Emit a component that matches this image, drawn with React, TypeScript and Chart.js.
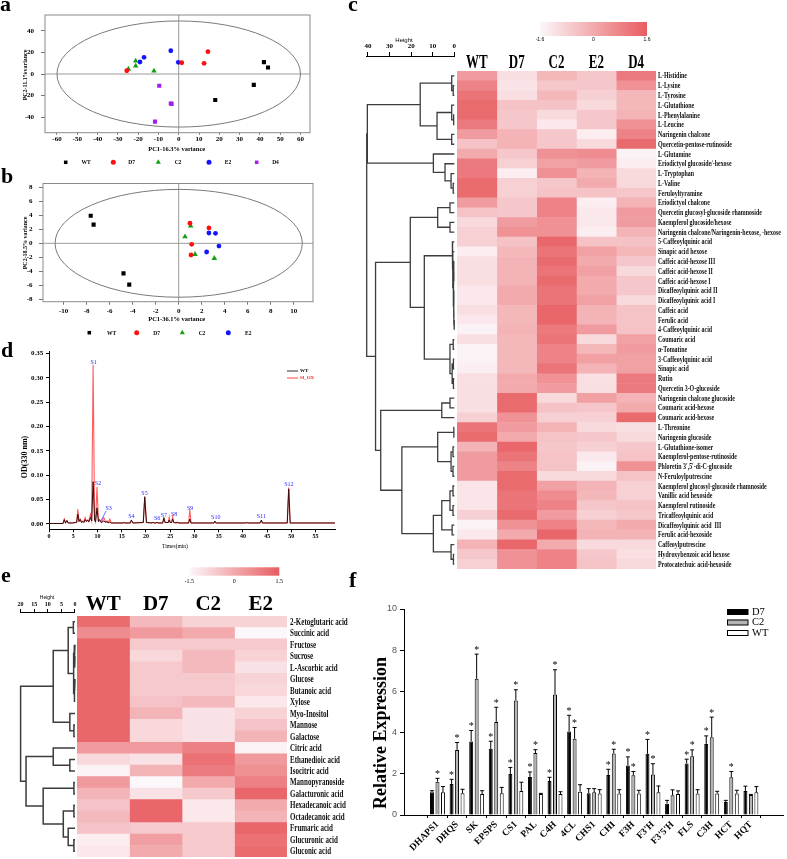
import React, { useEffect, useRef } from 'react';
import { Chart, registerables } from 'chart.js';

Chart.register(...registerables);

type Tree = number | [number, Tree, Tree];
type Box = { l: number; t: number; r: number; b: number };

const PAGE_W = 787;
const PAGE_H = 859;
const SERIF = "'Liberation Serif', 'Times New Roman', serif";
const SANS = "'Liberation Sans', Arial, sans-serif";

// ================= DATA =================
// ---- panels a / b : PCA scores ----
const pcaGroups = ['WT', 'D7', 'C2', 'E2', 'D4'];
const pcaColors = ['#000000', '#ff1010', '#14a014', '#1414ff', '#a020f0'];
const pcaShapes = ['rect', 'circle', 'triangle', 'circle', 'rect'];

const pcaA_WT = [[18, -24], [37, -10], [42, 11], [44, 6]];
const pcaA_D7 = [[-25.6, 3], [1.5, 10.4], [12.5, 9.9], [14.4, 20.6]];
const pcaA_C2 = [[-24.8, 4.6], [-21.2, 12], [-21.2, 7.4], [-12.2, 2.8]];
const pcaA_E2 = [[-19.1, 11.1], [-17.1, 15.4], [-3.9, 21.5], [-0.2, 10.8]];
const pcaA_D4 = [[-9.6, -10.8], [-3.9, -27.2], [-3.5, -27.6], [-11.7, -44]];
const pcaA_xTicks = [-60, -50, -40, -30, -20, -10, 0, 10, 20, 30, 40, 50, 60];
const pcaA_yTicks = [-40, -20, 0, 20, 40];
const pcaA_ellipse = [60, 49];

const pcaB_WT = [[-7.65, 3.94], [-7.4, 2.66], [-4.8, -4.3], [-4.3, -5.9]];
const pcaB_D7 = [[0.98, 2.86], [2.63, 2.2], [1.13, -0.14], [1.07, -1.67]];
const pcaB_C2 = [[1.04, 2.47], [0.55, 0.95], [1.42, -1.57], [3.1, -2.14]];
const pcaB_E2 = [[2.63, 1.47], [3.2, 1.43], [3.5, -0.39], [2.43, -1.24]];
const pcaB_xTicks = [-10, -8, -6, -4, -2, 0, 2, 4, 6, 8, 10];
const pcaB_yTicks = [-8, -6, -4, -2, 0, 2, 4, 6, 8];
const pcaB_ellipse = [10.75, 7.7];

// ---- panel c : heatmap ----
const rowsC = ['L-Histidine', 'L-Lysine', 'L-Tyrosine', 'L-Glutathione', 'L-Phenylalanine', 'L-Leucine',
  'Naringenin chalcone', 'Quercetin-pentose-rutinoside', 'L-Glutamine', 'Eriodictyol glucoside/-hexose',
  'L-Tryptophan', 'L-Valine', 'Feruloyltyramine', 'Eriodictyol chalcone', 'Quercetin glucosyl-glucoside rhamnoside',
  'Kaempferol glucoside/hexose', 'Naringenin chalcone/Naringenin-hexose, -hexose', '5-Caffeoylquinic acid',
  'Sinapic acid hexose', 'Caffeic acid-hexose III', 'Caffeic acid-hexose II', 'Caffeic acid-hexose I',
  'Dicaffeoylquinic acid II', 'Dicaffeoylquinic acid I', 'Caffeic acid', 'Ferulic acid', '4-Caffeoylquinic acid',
  'Coumaric acid', 'α-Tomatine', '3-Caffeoylquinic acid', 'Sinapic acid', 'Rutin', 'Quercetin 3-O-glucoside',
  'Naringenin chalcone glucoside', 'Coumaric acid-hexose', 'Coumaric acid-hexose', 'L-Threonine',
  'Naringenin glucoside', 'L-Glutathione-isomer', 'Kaempferol-pentose-rutinoside', "Phloretin 3',5'-di-C-glucoside",
  'N-Feruloylputrescine', 'Kaempferol glucosyl-glucoside rhamnoside', 'Vanillic acid hexoside', 'Kaempferol rutinoside',
  'Tricaffeoylquinic acid', 'Dicaffeoylquinic acid  III', 'Ferulic acid-hexoside', 'Caffeoylputrescine',
  'Hydroxybenzoic acid hexose', 'Protocatechuic acid-hexoside'];
const colsC = ['WT', 'D7', 'C2', 'E2', 'D4'];
const heatC_WT = [0.3, 0.8, 1.1, 1.3, 1.3, 1.0, 0.3, -0.5, 0.0, 1.0, 1.0, 1.3, 1.3, 0.3, -0.5, -1.0, -0.8, -0.8, -1.4, -1.1,
  -1.1, -1.1, -1.3, -1.3, -1.1, -1.3, -1.5, -1.1, -1.5, -1.5, -1.4, -1.1, -1.1, -1.1, -1.1, -0.8, 1.1, 1.3, -0.2, 0.3,
  0.3, 0.3, -1.2, -1.2, -1.2, -0.8, -1.5, -1.3, -0.2, -0.6, -0.8];
const heatC_D7 = [-1.1, -1.2, -1.1, -0.5, -0.6, -0.6, -0.2, -0.2, -0.6, -0.8, -1.4, -0.8, -0.8, -0.6, -0.6, 0.3, 0.5, -0.5, -0.3, -0.2,
  -0.2, -0.2, 0.0, 0.0, -0.3, -0.3, -0.2, -0.3, -0.3, -0.3, -0.3, 0.0, 0.0, 1.3, 1.3, 0.5, 0.3, 0.0, 1.4, 1.1,
  0.8, 1.3, 1.3, 1.1, 1.1, 1.3, 0.5, 0.0, 1.4, 0.5, 0.5];
const heatC_C2 = [-0.3, -0.6, -0.3, -0.5, -1.0, -1.3, -0.6, -0.6, 0.5, 0.2, 0.5, -0.6, -0.5, 0.8, 0.8, 0.5, 0.5, 1.4, 1.1, 1.3,
  1.1, 1.3, 1.1, 1.1, 1.4, 1.4, 1.0, 1.1, 0.8, 0.8, 1.1, 0.5, 0.3, -1.0, -0.5, -0.8, -0.2, -0.5, -0.6, -0.5,
  -0.5, -1.0, 0.2, 0.6, 0.8, 0.3, 0.8, 1.4, 0.0, 0.8, 0.8];
const heatC_E2 = [-0.6, -0.6, -0.8, -1.0, -0.6, -0.6, -1.4, -1.0, 0.6, 0.3, -0.2, 0.0, -0.5, -1.4, -1.3, -1.3, -1.4, -0.5, 0.2, 0.0,
  0.2, 0.0, 0.0, 0.2, -0.2, -0.2, 0.3, -1.0, -0.3, 0.2, -0.2, -1.1, -1.1, 0.2, -0.6, -0.8, -1.0, -0.6, -0.8, -1.3,
  -1.5, -1.0, -0.2, -0.3, -0.6, -0.8, -0.3, -0.2, -1.0, -0.6, -0.5];
const heatC_D4 = [1.0, 0.5, -0.3, -0.3, -0.2, 0.5, 0.8, 1.3, -1.5, -1.4, -1.0, -1.0, -0.6, -0.2, 0.3, 0.3, -0.2, -0.5, -0.3, -0.6,
  -1.0, -0.6, -0.6, -1.0, -0.5, -0.5, -0.5, 0.2, 0.3, 0.2, 0.2, 1.0, 1.0, -0.2, 0.0, 1.3, -1.1, -1.0, -0.6, -0.5,
  0.5, -0.5, -0.8, -0.8, -0.5, -0.6, 0.0, -0.2, -1.0, -1.1, -1.0];
const scaleC = [-1.6, 1.6];
const scaleC_labels = ['-1.6', '0', '1.6'];
// dendrogram: [merge height, left, right]; leaves are row indices
const treeC: Tree = [40.6,
  [40.3,
    [15.8, [1.2, 0, [0.5, 1, 2]], [8.0, [1.2, 3, [0.3, 4, 5]], [1.2, 6, 7]]],
    [9.7, 8, [4.3, 9, [1.5, 10, [0.5, 11, 12]]]]],
  [36.5,
    [20.4,
      [7.7, [2.0, 13, 14], [2.0, 15, 16]],
      [13.9,
        [0.9, 17, [0.7, 18, [0.5, [0.3, 19, [0.2, 20, 21]], [0.3, [0.2, 22, 23], [0.2, 24, [0.1, 25, 26]]]]]],
        [2.0, [0.5, 27, 28], [1.0, [0.4, 29, 30], [0.4, 31, 32]]]]],
    [34.1,
      [5.8, [2.0, 33, 34], 35],
      [24.3,
        [7.7, [0.2, 36, 37], [1.5, [0.6, 38, 39], [0.6, 40, 41]]],
        [9.7, [5.8, [2.0, [0.6, 42, 43], [0.6, 44, 45]], [1.0, 46, 47]], [1.5, 48, [0.4, 49, 50]]]]]]];
const treeC_ticks = [40, 30, 20, 10, 0];

// ---- panel d : chromatogram ----
const chromTime = [0, 2.9, 3.15, 3.4, 3.7, 3.95, 4.8, 5.7, 5.95, 6.2, 6.45, 6.7, 7.0, 7.2, 7.45, 7.7, 7.95, 8.2, 8.55, 8.8,
  9.1, 9.4, 9.6, 9.9, 10.2, 10.45, 10.8, 11.3, 11.7, 11.95, 12.2, 12.55, 12.85, 15.3, 15.5, 15.7, 16.75, 17.0, 17.3, 19.45,
  19.75, 20.1, 21.3, 21.5, 21.7, 22.1, 22.3, 22.5, 23.45, 23.7, 23.95, 24.6, 24.8, 25.0, 25.3, 25.5, 25.75, 26.3, 26.45, 26.65,
  28.8, 29.05, 29.3, 31.5, 34.0, 34.2, 34.45, 40.6, 40.8, 41.0, 43.55, 43.8, 44.05, 49.15, 49.45, 49.75, 59.0];
const chromWT = [0.001, 0.001, 0.009, 0.002, 0.007, 0.002, 0.002, 0.003, 0.020, 0.005, 0.009, 0.003, 0.005, 0.003, 0.009, 0.005, 0.008, 0.004, 0.013, 0.006,
  0.087, 0.008, 0.004, 0.033, 0.005, 0.009, 0.003, 0.006, 0.003, 0.005, 0.002, 0.004, 0.002, 0.002, 0.003, 0.002, 0.002, 0.008, 0.002, 0.003,
  0.056, 0.003, 0.002, 0.004, 0.002, 0.002, 0.004, 0.002, 0.002, 0.013, 0.003, 0.003, 0.008, 0.003, 0.003, 0.010, 0.003, 0.002, 0.004, 0.002,
  0.002, 0.010, 0.002, 0.002, 0.002, 0.006, 0.002, 0.002, 0.003, 0.002, 0.002, 0.008, 0.002, 0.002, 0.072, 0.002, 0.002];
const chromOX = [0.001, 0.001, 0.010, 0.002, 0.007, 0.002, 0.002, 0.004, 0.030, 0.006, 0.010, 0.004, 0.006, 0.004, 0.013, 0.006, 0.008, 0.005, 0.020, 0.008,
  0.327, 0.012, 0.005, 0.076, 0.006, 0.007, 0.003, 0.013, 0.004, 0.006, 0.003, 0.010, 0.002, 0.002, 0.003, 0.002, 0.002, 0.007, 0.002, 0.003,
  0.055, 0.003, 0.002, 0.003, 0.002, 0.002, 0.003, 0.002, 0.002, 0.010, 0.003, 0.003, 0.014, 0.003, 0.003, 0.015, 0.003, 0.002, 0.004, 0.002,
  0.002, 0.029, 0.002, 0.002, 0.002, 0.004, 0.002, 0.002, 0.003, 0.002, 0.002, 0.006, 0.002, 0.002, 0.075, 0.002, 0.002];
const peakNames = ['S1', 'S2', 'S3', 'S4', 'S5', 'S6', 'S7', 'S8', 'S9', 'S10', 'S11', 'S12'];
const peakT = [9.2, 10.1, 12.3, 17.0, 19.7, 22.3, 23.7, 25.8, 29.1, 34.4, 43.8, 49.5];
const peakV = [0.331, 0.084, 0.032, 0.015, 0.063, 0.012, 0.0185, 0.020, 0.032, 0.013, 0.015, 0.082];
const peakS3Pointer = [[11.8, 0.027], [10.6, 0.004]];
const chromXTicks = [0, 5, 10, 15, 20, 25, 30, 35, 40, 45, 50, 55];
const chromYTicks = [0, 0.05, 0.10, 0.15, 0.20, 0.25, 0.30, 0.35];

// ---- panel e : heatmap ----
const rowsE = ['2-Ketoglutaric acid', 'Succinic acid', 'Fructose', 'Sucrose', 'L-Ascorbic acid', 'Glucose',
  'Butanoic acid', 'Xylose', 'Myo-Inositol', 'Mannose', 'Galactose', 'Citric acid', 'Ethanedioic acid',
  'Isocitric acid', 'Mannopyranoside', 'Galacturonic acid', 'Hexadecanoic acid', 'Octadecanoic acid',
  'Frumaric acid', 'Glucuronic acid', 'Gluconic acid'];
const colsE = ['WT', 'D7', 'C2', 'E2'];
const heatE_WT = [1.2, 0.6, 1.3, 1.3, 1.3, 1.3, 1.3, 1.3, 1.3, 1.3, 1.3, 0.3, -0.9, -1.4, 0.3, -0.2, -0.5, -0.3, -0.5, -1.3, -1.2];
const heatE_D7 = [-0.3, 0.3, -0.6, -0.9, -0.6, -0.6, -0.6, -0.5, -0.2, -0.9, -0.9, 0.3, -1.1, -0.2, -1.5, -1.1, 1.3, 1.3, -0.6, 0.2, 0.0];
const heatE_C2 = [-0.8, 0.0, -0.6, -0.3, -0.3, -0.6, -0.6, -0.3, -1.1, -1.1, -1.1, 0.8, 1.1, 0.9, 0.0, -0.6, -1.2, -1.2, -0.6, -0.6, -0.6];
const heatE_E2 = [-0.8, -1.5, -0.6, -0.8, -1.1, -0.8, -0.9, -1.2, -0.8, -0.5, -0.2, -1.4, 0.3, 0.5, 0.8, 1.3, 0.0, -0.2, 1.3, 1.1, 1.2];
const scaleE = [-1.5, 1.5];
const scaleE_labels = ['-1.5', '0', '1.5'];
const treeE: Tree = [20.0,
  [8.0, [2.5, [0.6, 0, 1], [0.5, [0.3, 2, [0.2, 3, 4]], [0.3, [0.2, 5, 6], 7]]], [1.9, 8, [0.4, 9, 10]]],
  [18.0, [8.0, 11, [1.9, 12, 13]], [11.7, [0.4, 14, 15], [4.3, [0.4, 16, 17], [2.5, 18, [0.4, 19, 20]]]]]];
const treeE_ticks = [20, 15, 10, 5, 0];

// ---- panel f : relative expression ----
const genes = ['DHAPS1', 'DHQS', 'SK', 'EPSPS', 'CS1', 'PAL', 'C4H', '4CL', 'CHS1', 'CHI', 'F3H', "F3'H", "F3'5'H", 'FLS', 'C3H', 'HCT', 'HQT'];
const exprD7 = [1.10, 1.51, 3.57, 3.21, 1.99, 1.85, 1.65, 4.05, 1.05, 1.94, 2.40, 2.97, 0.55, 2.50, 3.45, 0.63, 1.17];
const errD7 = [0.08, 0.22, 0.53, 0.37, 0.32, 0.24, 0.18, 0.79, 0.23, 0.28, 0.42, 0.70, 0.16, 0.21, 0.39, 0.08, 0.23];
const exprC2 = [1.62, 3.16, 6.61, 4.52, 5.56, 3.01, 5.85, 3.70, 1.10, 2.98, 1.93, 1.96, 0.96, 2.85, 3.78, 1.83, 0.97];
const errC2 = [0.16, 0.36, 1.20, 0.71, 0.52, 0.16, 1.20, 0.55, 0.18, 0.21, 0.18, 0.53, 0.26, 0.31, 0.97, 0.28, 0.03];
const exprWT = [1.10, 1.05, 1.02, 1.05, 1.17, 1.02, 1.02, 1.13, 1.04, 1.04, 1.04, 1.10, 1.02, 1.04, 1.04, 1.04, 1.10];
const errWT = [0.28, 0.20, 0.16, 0.29, 0.42, 0.03, 0.11, 0.34, 0.19, 0.19, 0.16, 0.31, 0.15, 0.19, 0.11, 0.16, 0.28];
const sigD7 = [0, 1, 1, 1, 1, 1, 1, 1, 0, 1, 1, 1, 0, 1, 1, 0, 0];
const sigC2 = [1, 1, 1, 1, 1, 1, 1, 1, 0, 1, 1, 1, 0, 1, 1, 1, 0];
const exprYTicks = [0, 2, 4, 6, 8, 10];

// ================= LAYOUT =================
const AREA_A: Box = { l: 45, t: 15, r: 310, b: 132.7 };
const AREA_B: Box = { l: 43, t: 183.5, r: 313, b: 301.7 };
const AREA_CH: Box = { l: 457, t: 71, r: 656, b: 569 };
const AREA_CD: Box = { l: 366.7, t: 56, r: 454.3, b: 569 };
const AREA_D: Box = { l: 49, t: 351.7, r: 335, b: 529.3 };
const AREA_EH: Box = { l: 77, t: 616, r: 287, b: 857 };
const AREA_ED: Box = { l: 20.6, t: 612, r: 75, b: 857 };
const AREA_F: Box = { l: 404, t: 609, r: 783, b: 815 };

// ================= HELPERS =================
function txt(ctx: CanvasRenderingContext2D, s: string, x: number, y: number, font: string, o: any = {}) {
  ctx.save();
  ctx.translate(x, y);
  if (o.rot) ctx.rotate(o.rot);
  if (o.sx) ctx.scale(o.sx, 1);
  ctx.font = font;
  ctx.fillStyle = o.color || '#000';
  ctx.textAlign = o.align || 'center';
  ctx.textBaseline = o.base || 'middle';
  ctx.fillText(s, 0, 0);
  ctx.restore();
}

function drawMarker(ctx: CanvasRenderingContext2D, shape: string, x: number, y: number, r: number, color: string) {
  ctx.save();
  ctx.fillStyle = color;
  ctx.beginPath();
  if (shape === 'rect') {
    const s = r * Math.SQRT1_2;
    ctx.rect(x - s, y - s, 2 * s, 2 * s);
  } else if (shape === 'triangle') {
    ctx.moveTo(x, y - r);
    ctx.lineTo(x + r * 0.866, y + r * 0.5);
    ctx.lineTo(x - r * 0.866, y + r * 0.5);
    ctx.closePath();
  } else {
    ctx.arc(x, y, r, 0, Math.PI * 2);
  }
  ctx.fill();
  ctx.restore();
}

function heatColor(v: number, vmin: number, vmax: number): string {
  const t = Math.max(0, Math.min(1, (v - vmin) / (vmax - vmin)));
  const c0 = [252, 247, 250];
  const c1 = [232, 92, 96];
  const c = c0.map((a, k) => Math.round(a + (c1[k] - a) * t));
  return `rgb(${c[0]},${c[1]},${c[2]})`;
}

function dendroPoints(tree: Tree) {
  const pts: any[] = [];
  const walk = (t: Tree): [number, number] => {
    if (typeof t === 'number') return [t, 0];
    const [h, l, r] = t;
    const [yl, hl] = walk(l);
    const [yr, hr] = walk(r);
    pts.push({ x: hl, y: yl }, { x: h, y: yl }, { x: h, y: yr }, { x: hr, y: yr }, { x: NaN, y: NaN });
    return [(yl + yr) / 2, h];
  };
  walk(tree);
  return pts;
}

function baseOptions(extra: any) {
  return {
    responsive: false,
    maintainAspectRatio: false,
    animation: false,
    devicePixelRatio: 1,
    events: [],
    plugins: { legend: { display: false }, tooltip: { enabled: false }, title: { display: false } },
    ...extra,
  };
}

const fixedTicks = (vals: number[]) => (axis: any) => {
  axis.ticks = vals.map((v) => ({ value: v }));
};

// ================= PANEL CONFIGS =================
function pcaConfig(p: any) {
  const datasets = p.sets.map((pts: number[][], i: number) => ({
    label: pcaGroups[i],
    data: pts.map(([x, y]) => ({ x, y })),
    backgroundColor: pcaColors[i],
    borderColor: pcaColors[i],
    borderWidth: 0,
    pointStyle: pcaShapes[i],
    pointRadius: pcaShapes[i] === 'triangle' ? 3.2 : pcaShapes[i] === 'rect' ? 2.9 : 2.4,
  }));
  const tickFont = { family: SERIF, size: 7, weight: 'bold' };
  const A: Box = p.area;
  const plugin = {
    id: 'pcaDeco',
    beforeDatasetsDraw(chart: any) {
      const { ctx, chartArea: ca, scales } = chart;
      const x = scales.x, y = scales.y;
      const x0 = x.getPixelForValue(0), y0 = y.getPixelForValue(0);
      ctx.save();
      ctx.lineWidth = 1;
      ctx.strokeStyle = '#9a9a9a';
      ctx.beginPath();
      ctx.moveTo(ca.left, y0); ctx.lineTo(ca.right, y0);
      ctx.moveTo(x0, ca.top); ctx.lineTo(x0, ca.bottom);
      ctx.stroke();
      ctx.strokeStyle = '#7a7a7a';
      ctx.beginPath();
      ctx.ellipse(x0, y0, Math.abs(x.getPixelForValue(p.ellipse[0]) - x0), Math.abs(y.getPixelForValue(p.ellipse[1]) - y0), 0, 0, Math.PI * 2);
      ctx.stroke();
      ctx.strokeStyle = '#8a8a8a';
      ctx.strokeRect(ca.left, ca.top, ca.right - ca.left, ca.bottom - ca.top);
      ctx.restore();
    },
    afterDraw(chart: any) {
      const ctx = chart.ctx;
      txt(ctx, p.xTitle, p.xTitlePos[0], p.xTitlePos[1], `bold 7px ${SERIF}`, { sx: 0.92 });
      txt(ctx, p.yTitle, p.yTitlePos[0], p.yTitlePos[1], `bold 7px ${SERIF}`, { rot: -Math.PI / 2, sx: 0.85 });
      p.sets.forEach((_: any, i: number) => {
        drawMarker(ctx, pcaShapes[i], p.legMarkX[i], p.legY, pcaShapes[i] === 'triangle' ? 3 : 2.5, pcaColors[i]);
        txt(ctx, pcaGroups[i], p.legTextX[i], p.legY + 0.5, `bold 5.5px ${SERIF}`);
      });
    },
  };
  return {
    type: 'scatter',
    data: { datasets },
    options: baseOptions({
      layout: { padding: { left: A.l - 22, top: A.t, right: PAGE_W - A.r, bottom: PAGE_H - A.b - 12 } },
      scales: {
        x: {
          type: 'linear', min: p.xMin, max: p.xMax,
          afterBuildTicks: fixedTicks(p.xTicks),
          afterFit: (s: any) => { s.height = 12; },
          ticks: { font: tickFont, color: '#000', padding: p.xPad, maxRotation: 0, autoSkip: false },
          grid: { drawOnChartArea: false, tickLength: p.xTick, color: '#777' },
          border: { display: false },
        },
        y: {
          type: 'linear', min: p.yMin, max: p.yMax,
          afterBuildTicks: fixedTicks(p.yTicks),
          afterFit: (s: any) => { s.width = 22; },
          ticks: { font: tickFont, color: '#000', padding: p.yPad, autoSkip: false },
          grid: { drawOnChartArea: false, tickLength: 4, color: '#777' },
          border: { display: false },
        },
      },
    }),
    plugins: [plugin],
  };
}

function heatmapConfig(p: any) {
  const A: Box = p.area;
  const plugin = {
    id: 'heatDeco',
    afterDraw(chart: any) {
      const { ctx, scales } = chart;
      const x = scales.x, y = scales.y;
      p.rows.forEach((r: string, i: number) => {
        txt(ctx, r, p.labelX, y.getPixelForValue(i) + 0.5, `bold ${p.labelSize}px ${SERIF}`, { align: 'left', sx: p.labelSx, color: '#111' });
      });
      p.cols.forEach((c: string, j: number) => {
        txt(ctx, c, x.getPixelForValue(j + 0.5), p.headY, `bold ${p.headSize}px ${SERIF}`, { base: 'alphabetic', sx: p.headSx });
      });
      const cb: Box = p.cbar;
      const g = ctx.createLinearGradient(cb.l, 0, cb.r, 0);
      g.addColorStop(0, heatColor(p.vrange[0], p.vrange[0], p.vrange[1]));
      g.addColorStop(0.5, heatColor((p.vrange[0] + p.vrange[1]) / 2, p.vrange[0], p.vrange[1]));
      g.addColorStop(1, heatColor(p.vrange[1], p.vrange[0], p.vrange[1]));
      ctx.fillStyle = g;
      ctx.fillRect(cb.l, cb.t, cb.r - cb.l, cb.b - cb.t);
      p.cbarLabels.forEach((s: string, k: number) => {
        const xx = cb.l + ((cb.r - cb.l) * k) / (p.cbarLabels.length - 1);
        txt(ctx, s, xx, p.cbarLabelY, p.cbarFont);
      });
    },
  };
  return {
    type: 'bar',
    data: {
      labels: p.rows,
      datasets: p.cols.map((c: string, j: number) => ({
        label: c,
        data: p.rows.map(() => [j, j + 1]),
        backgroundColor: p.values[j].map((v: number) => heatColor(v, p.vrange[0], p.vrange[1])),
        borderWidth: 0,
        barPercentage: 1,
        categoryPercentage: 1,
        grouped: false,
      })),
    },
    options: baseOptions({
      indexAxis: 'y',
      layout: { padding: { left: A.l, top: A.t, right: PAGE_W - A.r, bottom: PAGE_H - A.b } },
      scales: {
        x: { type: 'linear', min: 0, max: p.cols.length, display: false },
        y: { type: 'category', display: false },
      },
    }),
    plugins: [plugin],
  };
}

function dendroConfig(p: any) {
  const A: Box = p.area;
  const H: Box = p.heatArea;
  const rowH = (H.b - H.t) / p.nRows;
  const yMin = (A.t - H.t) / rowH - 0.5;
  const yMax = (A.b - H.t) / rowH - 0.5;
  const axisH = 20;
  const plugin = {
    id: 'dendroDeco',
    afterDraw(chart: any) {
      txt(chart.ctx, 'Height', p.titlePos[0], p.titlePos[1], `${p.titleSize}px ${SANS}`);
    },
  };
  return {
    type: 'scatter',
    data: {
      datasets: [{
        data: dendroPoints(p.tree),
        showLine: true,
        spanGaps: false,
        borderColor: '#3c3c3c',
        borderWidth: p.lineW,
        pointRadius: 0,
        clip: false,
      }],
    },
    options: baseOptions({
      layout: { padding: { left: A.l, top: A.t - axisH, right: PAGE_W - A.r, bottom: PAGE_H - A.b } },
      scales: {
        x: {
          type: 'linear', position: 'top', reverse: true, min: 0, max: p.hMax,
          afterBuildTicks: fixedTicks(p.ticks),
          afterFit: (s: any) => { s.height = axisH; },
          ticks: { font: { family: SERIF, size: p.tickSize, weight: 'bold' }, color: '#000', padding: p.tickPad, maxRotation: 0, autoSkip: false },
          grid: { drawOnChartArea: false, tickLength: p.tickLen, color: '#000' },
          border: { display: true, color: '#000', width: 1 },
        },
        y: { type: 'linear', reverse: true, min: yMin, max: yMax, display: false },
      },
    }),
    plugins: [plugin],
  };
}

function chromConfig() {
  const A = AREA_D;
  const plugin = {
    id: 'chromDeco',
    afterDraw(chart: any) {
      const { ctx, scales } = chart;
      const x = scales.x, y = scales.y;
      peakNames.forEach((s, i) => {
        txt(ctx, s, x.getPixelForValue(peakT[i]), y.getPixelForValue(peakV[i]), `6px ${SERIF}`, { color: '#2a2aff' });
      });
      ctx.save();
      ctx.strokeStyle = '#4a4aff';
      ctx.lineWidth = 0.8;
      ctx.beginPath();
      ctx.moveTo(x.getPixelForValue(peakS3Pointer[0][0]), y.getPixelForValue(peakS3Pointer[0][1]));
      ctx.lineTo(x.getPixelForValue(peakS3Pointer[1][0]), y.getPixelForValue(peakS3Pointer[1][1]));
      ctx.stroke();
      // legend
      ctx.lineWidth = 1;
      ctx.strokeStyle = '#333';
      ctx.beginPath(); ctx.moveTo(287, 371); ctx.lineTo(298, 371); ctx.stroke();
      ctx.strokeStyle = '#ff4a4a';
      ctx.beginPath(); ctx.moveTo(287, 378); ctx.lineTo(298, 378); ctx.stroke();
      ctx.restore();
      txt(ctx, 'WT', 300, 371, `bold 5px ${SERIF}`, { align: 'left' });
      txt(ctx, 'Sl_OX', 300, 378, `bold 5px ${SERIF}`, { align: 'left', color: '#ff2020' });
      txt(ctx, 'OD(330 nm)', 25, 457, `bold 8px ${SERIF}`, { rot: -Math.PI / 2 });
      txt(ctx, 'Times(min)', 175, 547, `5.5px ${SERIF}`);
    },
  };
  const tickFont = { family: SERIF, size: 6, weight: 'bold' };
  return {
    type: 'scatter',
    data: {
      datasets: [
        { label: 'WT', data: chromTime.map((t, i) => ({ x: t, y: chromWT[i] })), showLine: true, borderColor: '#3a0c0c', borderWidth: 1, pointRadius: 0 },
        { label: 'Sl_OX', data: chromTime.map((t, i) => ({ x: t, y: chromOX[i] })), showLine: true, borderColor: '#ff5c5c', borderWidth: 1.1, pointRadius: 0 },
      ],
    },
    options: baseOptions({
      layout: { padding: { left: A.l - 20, top: A.t, right: PAGE_W - A.r, bottom: PAGE_H - A.b - 14 } },
      scales: {
        x: {
          type: 'linear', min: 0, max: 59,
          afterBuildTicks: fixedTicks(chromXTicks),
          afterFit: (s: any) => { s.height = 14; },
          ticks: { font: tickFont, color: '#000', padding: 1, maxRotation: 0, autoSkip: false },
          grid: { drawOnChartArea: false, tickLength: 3, color: '#000' },
          border: { display: true, color: '#000' },
        },
        y: {
          type: 'linear', min: -0.011, max: 0.354,
          afterBuildTicks: fixedTicks(chromYTicks),
          afterFit: (s: any) => { s.width = 20; },
          ticks: { font: { family: SERIF, size: 7, weight: 'bold' }, color: '#000', padding: 2.7, autoSkip: false, callback: (v: number) => v.toFixed(2) },
          grid: { drawOnChartArea: false, tickLength: 3, color: '#000' },
          border: { display: true, color: '#000' },
        },
      },
    }),
    plugins: [plugin],
  };
}

function exprConfig() {
  const A = AREA_F;
  const series: any[] = [[exprD7, errD7, sigD7], [exprC2, errC2, sigC2], [exprWT, errWT, null]];
  const legend = [['D7', '#000000', 609], ['C2', '#b4b4b4', 619.5], ['WT', '#ffffff', 630]];
  const plugin = {
    id: 'exprDeco',
    afterDatasetsDraw(chart: any) {
      const { ctx, scales } = chart;
      const y = scales.y;
      ctx.save();
      ctx.strokeStyle = '#000';
      ctx.lineWidth = 1;
      series.forEach(([vals, errs, sig]: any, d: number) => {
        const meta = chart.getDatasetMeta(d);
        meta.data.forEach((el: any, i: number) => {
          const xx = el.x;
          const top = y.getPixelForValue(vals[i]);
          const et = y.getPixelForValue(vals[i] + errs[i]);
          ctx.beginPath();
          ctx.moveTo(xx, top); ctx.lineTo(xx, et);
          ctx.moveTo(xx - 2, et); ctx.lineTo(xx + 2, et);
          ctx.stroke();
          if (sig && sig[i]) txt(ctx, '*', xx, et - 1.5, `10px ${SERIF}`, { base: 'alphabetic' });
        });
      });
      legend.forEach(([name, col, yy]: any) => {
        ctx.fillStyle = col;
        ctx.fillRect(727, yy, 21, 5.5);
        ctx.strokeRect(727.5, yy + 0.5, 20.5, 5);
        txt(ctx, name, 752, yy + 3, `10.5px ${SERIF}`, { align: 'left' });
      });
      ctx.restore();
      txt(ctx, 'Relative Expression', 381, 733, `bold 18px ${SERIF}`, { rot: -Math.PI / 2 });
    },
  };
  const mk = (label: string, vals: number[], bg: string) => ({
    label,
    data: vals.map((v, i) => ({ x: i, y: v })),
    backgroundColor: bg,
    borderColor: '#000',
    borderWidth: 1,
    borderSkipped: 'bottom',
    categoryPercentage: 0.84,
    barPercentage: 0.72,
  });
  return {
    type: 'bar',
    data: { datasets: [mk('D7', exprD7, '#000000'), mk('C2', exprC2, '#b4b4b4'), mk('WT', exprWT, '#ffffff')] },
    options: baseOptions({
      layout: { padding: { left: A.l - 39, top: A.t, right: PAGE_W - A.r, bottom: PAGE_H - A.b - 44 } },
      scales: {
        x: {
          type: 'linear', min: -1.14, max: 17.07,
          afterBuildTicks: fixedTicks(genes.map((_, i) => i)),
          afterFit: (s: any) => { s.height = 44; },
          ticks: {
            callback: (v: number) => genes[v], minRotation: 45, maxRotation: 45, autoSkip: false,
            font: { family: SERIF, size: 9.5, weight: 'bold' }, color: '#000', padding: 1,
          },
          grid: { drawOnChartArea: false, tickLength: 3, color: '#000' },
          border: { display: true, color: '#000' },
        },
        y: {
          type: 'linear', min: 0, max: 10,
          afterBuildTicks: fixedTicks(exprYTicks),
          afterFit: (s: any) => { s.width = 39; },
          ticks: { font: { family: SANS, size: 9 }, color: '#555', padding: 3, autoSkip: false },
          grid: { drawOnChartArea: false, tickLength: 4, color: '#000' },
          border: { display: true, color: '#000' },
        },
      },
    }),
    plugins: [plugin],
  };
}

function allConfigs() {
  return [
    pcaConfig({
      sets: [pcaA_WT, pcaA_D7, pcaA_C2, pcaA_E2, pcaA_D4], area: AREA_A,
      xMin: -65.9, xMax: 64.7, yMin: -54.2, yMax: 54.5, xTicks: pcaA_xTicks, yTicks: pcaA_yTicks,
      ellipse: pcaA_ellipse, xPad: 0, xTick: 2, yPad: 7,
      xTitle: 'PC1-16.3% variance', xTitlePos: [176.7, 149.5],
      yTitle: 'PC2-11.1%variance', yTitlePos: [25.5, 75],
      legY: 162.3, legMarkX: [65.7, 113.3, 158.3, 209, 256.7], legTextX: [86, 131.7, 178, 228, 275.5],
    }),
    pcaConfig({
      sets: [pcaB_WT, pcaB_D7, pcaB_C2, pcaB_E2], area: AREA_B,
      xMin: -11.8, xMax: 11.68, yMin: -8.34, yMax: 8.54, xTicks: pcaB_xTicks, yTicks: pcaB_yTicks,
      ellipse: pcaB_ellipse, xPad: 2, xTick: 3, yPad: 6.5,
      xTitle: 'PC1-36.1% variance', xTitlePos: [176.7, 319],
      yTitle: 'PC2-18.5% variance', yTitlePos: [25.5, 243],
      legY: 332.7, legMarkX: [89.3, 136.7, 182.3, 228.3], legTextX: [111.7, 156.7, 202, 248.3],
    }),
    heatmapConfig({
      rows: rowsC, cols: colsC, values: [heatC_WT, heatC_D7, heatC_C2, heatC_E2, heatC_D4], vrange: scaleC,
      area: AREA_CH, labelX: 658, labelSize: 8, labelSx: 0.74, headY: 68, headSize: 18, headSx: 0.72,
      cbar: { l: 540, t: 22, r: 647, b: 36 }, cbarLabels: scaleC_labels, cbarLabelY: 39.5, cbarFont: `5px ${SANS}`,
    }),
    dendroConfig({
      tree: treeC, area: AREA_CD, heatArea: AREA_CH, nRows: rowsC.length, hMax: 40.6, ticks: treeC_ticks,
      tickSize: 7, tickPad: 2, tickLen: 4, lineW: 1.3, titlePos: [404, 40], titleSize: 6,
    }),
    chromConfig(),
    heatmapConfig({
      rows: rowsE, cols: colsE, values: [heatE_WT, heatE_D7, heatE_C2, heatE_E2], vrange: scaleE,
      area: AREA_EH, labelX: 290, labelSize: 10, labelSx: 0.7, headY: 610, headSize: 21, headSx: 1,
      cbar: { l: 189.3, t: 567.3, r: 279.3, b: 575.7 }, cbarLabels: scaleE_labels, cbarLabelY: 581, cbarFont: `6px ${SERIF}`,
    }),
    dendroConfig({
      tree: treeE, area: AREA_ED, heatArea: AREA_EH, nRows: rowsE.length, hMax: 20.0, ticks: treeE_ticks,
      tickSize: 6, tickPad: 1, tickLen: 3, lineW: 1.5, titlePos: [47, 597.5], titleSize: 5,
    }),
    exprConfig(),
  ];
}

const panelLetters = [
  ['a', 0, 11.7], ['b', 1, 183], ['c', 348, 11.7], ['d', 1, 357], ['e', 1, 582.5], ['f', 349, 587],
];

export default function App() {
  const refs = useRef<(HTMLCanvasElement | null)[]>([]);
  const count = 8;
  useEffect(() => {
    const cfgs = allConfigs();
    const charts = cfgs.map((cfg: any, i: number) => new Chart(refs.current[i] as HTMLCanvasElement, cfg));
    return () => charts.forEach((c) => c.destroy());
  }, []);
  return (
    <div style={{ position: 'fixed', left: 0, top: 0, width: PAGE_W, height: PAGE_H, background: '#fff', overflow: 'hidden' }}>
      {Array.from({ length: count }).map((_, i) => (
        <canvas
          key={i}
          ref={(el) => { refs.current[i] = el; }}
          width={PAGE_W}
          height={PAGE_H}
          style={{ position: 'absolute', left: 0, top: 0, width: PAGE_W, height: PAGE_H }}
        />
      ))}
      {panelLetters.map(([ch, x, base]: any) => (
        <div
          key={ch}
          style={{
            position: 'absolute', left: x, top: base - 18.4, fontFamily: SERIF, fontWeight: 'bold',
            fontSize: 22, lineHeight: '22px', color: '#000',
          }}
        >
          {ch}
        </div>
      ))}
    </div>
  );
}
